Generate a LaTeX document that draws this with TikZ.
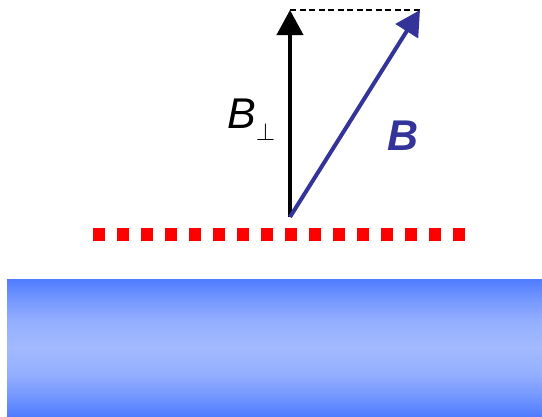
\documentclass[tikz,border=0pt]{standalone}
\usepackage{fontspec}
\setmainfont{Liberation Sans}
\usetikzlibrary{arrows.meta}
\definecolor{fieldblue}{RGB}{51,51,153}
\definecolor{slabedge}{RGB}{79,124,255}
\definecolor{slabmid}{RGB}{163,186,255}
\pgfdeclareverticalshading{slab}{100bp}{color(0bp)=(slabedge); color(25bp)=(slabedge);
  color(32.5bp)=(slabmid!45!slabedge); color(40bp)=(slabmid!81!slabedge); color(50bp)=(slabmid);
  color(60bp)=(slabmid!81!slabedge); color(67.5bp)=(slabmid!45!slabedge); color(75bp)=(slabedge);
  color(100bp)=(slabedge)}
\begin{document}
\begin{tikzpicture}[x=1pt,y=-1pt,
  vec/.style={line width=4pt,-{Triangle[length=25pt,width=26pt]}},
  lbl/.style={anchor=base west,inner sep=0pt,font=\fontsize{43}{50}\selectfont}]
\useasboundingbox (0,0) rectangle (542,416);
% slab
\shade[shading=slab] (7,279) rectangle (542,416);
% surface line
\draw[red,line width=12.5pt,dash pattern=on 12pt off 12pt] (93,234.5) -- (465,234.5);
% vectors
\coordinate (origin) at (290,217);
\coordinate (perpTip) at (290,10);
\coordinate (fieldTip) at (420,10);
\draw[line width=1.6pt,dash pattern=on 6pt off 3.5pt] (perpTip) -- (fieldTip);
\draw[vec,black] (origin) -- (perpTip);
\draw[vec,fieldblue] (origin) -- (fieldTip);
\node[lbl] (perpLabel) at (227,128) {\textit{B}\raisebox{-12pt}{\fontsize{24}{24}\selectfont$\perp$}};
\node[lbl,text=fieldblue] (fieldLabel) at (387,150) {\textbf{\textit{B}}};
\end{tikzpicture}
\end{document}
